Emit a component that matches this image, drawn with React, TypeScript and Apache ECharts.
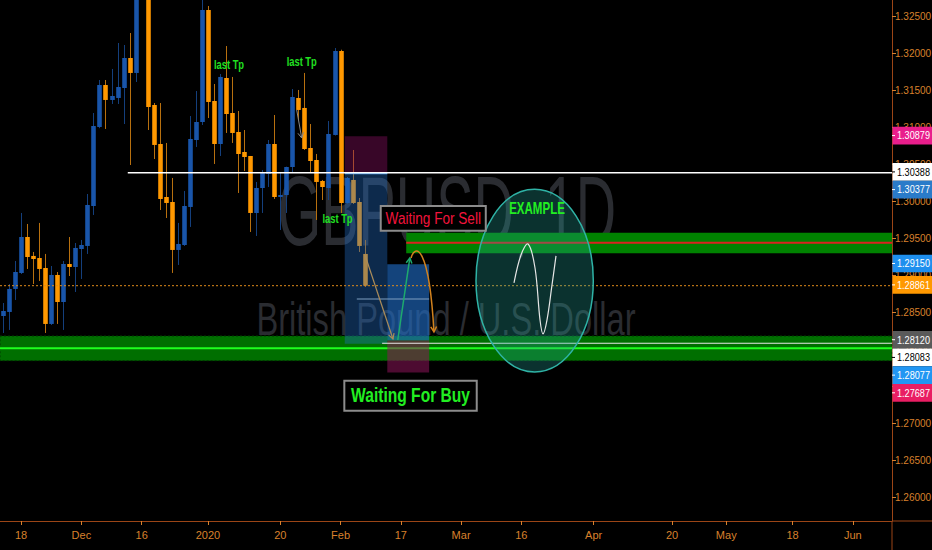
import React, { useEffect, useRef } from 'react';
import * as echarts from 'echarts';

// ---------- axis layout data ----------
const BAR_MIN = -0.5;
const BAR_MAX = 147.5;
const xTickIndex = [3, 13, 23, 34, 46, 56, 66, 76, 86, 98, 111, 120, 131, 141];
const xTickLabels = ['18', 'Dec', '16', '2020', '20', 'Feb', '17', 'Mar', '16', 'Apr', '20', 'May', '18', 'Jun'];
const yTickValues = [1.26, 1.265, 1.27, 1.275, 1.28, 1.285, 1.29, 1.295, 1.3, 1.305, 1.31, 1.315, 1.32, 1.325];
const Y_MIN = 1.25681;
const Y_MAX = 1.32722;

// ---------- GBPUSD daily candles (bar index 0 = 13 Nov 2019) ----------
const opens = [
  1.28452, 1.28506, 1.28817, 1.29033, 1.29519, 1.29263, 1.29235, 1.291, 1.28344, 1.29006,
  1.28641, 1.29154, 1.29114, 1.29357, 1.29398, 1.29938, 1.31006, 1.31573, 1.31371, 1.31398,
  1.31533, 1.31938, 1.31736, 1.333, 1.3335, 1.31303, 1.30776, 1.3006, 1.29992, 1.29344,
  1.29411, 1.29925, 1.3083, 1.31073, 1.32587, 1.31357, 1.30776, 1.31668, 1.31195, 1.30938,
  1.30668, 1.30614, 1.29844, 1.30181, 1.30371, 1.30776, 1.3006, 1.30087, 1.30465, 1.31398,
  1.31263, 1.30722, 1.3056, 1.30276, 1.30181, 1.30898, 1.32033, 1.29979, 1.3029, 1.29992,
  1.2929,
];
const highs = [
  1.28627, 1.28884, 1.29195, 1.29844, 1.29695, 1.29317, 1.29709, 1.2929, 1.29127, 1.29046,
  1.29195, 1.29519, 1.29438, 1.29479, 1.301, 1.31195, 1.31641, 1.31641, 1.3179, 1.32141,
  1.32114, 1.32276, 1.3514, 1.34, 1.341, 1.3133, 1.3133, 1.3079, 1.30317, 1.29709,
  1.30141, 1.31154, 1.31492, 1.3285, 1.32641, 1.31587, 1.31722, 1.321, 1.31682, 1.31222,
  1.30965, 1.30614, 1.30263, 1.30425, 1.3083, 1.31168, 1.30384, 1.3047, 1.31519, 1.31506,
  1.31736, 1.31046, 1.30641, 1.3029, 1.31087, 1.32073, 1.3205, 1.3033, 1.30695, 1.30046,
  1.29479,
];
const lows = [
  1.28222, 1.28263, 1.28668, 1.29019, 1.29087, 1.28884, 1.28925, 1.28222, 1.2833, 1.28344,
  1.28263, 1.28992, 1.28776, 1.28952, 1.2929, 1.29817, 1.3099, 1.30979, 1.31317, 1.31317,
  1.31046, 1.30492, 1.31614, 1.3295, 1.30965, 1.30573, 1.29884, 1.29776, 1.29033, 1.29141,
  1.29398, 1.29655, 1.30736, 1.31033, 1.31127, 1.30506, 1.30614, 1.30925, 1.3079, 1.30114,
  1.30411, 1.29587, 1.29533, 1.29844, 1.30195, 1.30033, 1.29614, 1.29844, 1.30384, 1.311,
  1.30695, 1.30384, 1.29749, 1.30019, 1.30019, 1.3089, 1.29844, 1.2997, 1.29965, 1.29317,
  1.28844,
];
const closes = [
  1.28519, 1.28817, 1.29046, 1.29519, 1.29249, 1.29222, 1.29087, 1.28344, 1.29006, 1.28641,
  1.29154, 1.29114, 1.29371, 1.29411, 1.29952, 1.31019, 1.31573, 1.31371, 1.31425, 1.31546,
  1.31938, 1.31736, 1.333, 1.3335, 1.31276, 1.30763, 1.30033, 1.29979, 1.29344, 1.29425,
  1.29938, 1.30844, 1.31073, 1.32587, 1.31344, 1.30776, 1.31682, 1.31181, 1.30925, 1.30641,
  1.306, 1.29844, 1.30181, 1.30384, 1.30776, 1.3006, 1.30087, 1.30465, 1.31411, 1.31236,
  1.30708, 1.30546, 1.30263, 1.30195, 1.30911, 1.32033, 1.29979, 1.30317, 1.29979, 1.29398,
  1.28861,
];

// ---------- price-scale badges ----------
const badgeValues = [1.30879, 1.30388, 1.30377, 1.2915, 1.28861, 1.2812, 1.28083, 1.28077, 1.27687];
const badgeBg = ['#e91e8c', '#ffffff', '#2a7bc9', '#1e8fee', '#ff9800', '#5a5a5a', '#ffffff', '#2196f3', '#e91e63'];
const badgeFg = ['#ffffff', '#000000', '#ffffff', '#ffffff', '#ffffff', '#ffffff', '#000000', '#ffffff', '#ffffff'];

// ---------- drawing anchors [bar index, price] ----------
const resistanceLine = { from: 20.7, price: 1.30388 };
const lastPrice = 1.28861;
const supportBand = { top: 1.28181, bottom: 1.27848, core: 1.28015, whiteFrom: 62.9, white: 1.28083 };
const sellBand = { from: 66.9, top: 1.29577, bottom: 1.29299, red: 1.29442 };
const shortPos = { left: 56.7, right: 63.76, stop: 1.30879, entry: 1.30377, target: 1.28077 };
const longPos = { left: 63.76, right: 70.7, target: 1.2915, entry: 1.2812, stop: 1.27687 };
const innerLine = { from: 58.7, to: 70.7, price: 1.28681 };
const exampleEllipse = { left: 78.48, right: 97.94, top: 1.30164, bottom: 1.27695 };
const exampleWave = [
  [84.78, 1.28898], [85.94, 1.29276], [87.11, 1.29425], [88.27, 1.291], [89.1, 1.28398],
  [89.6, 1.28209], [90.26, 1.28398], [91.09, 1.28871], [91.75, 1.29263],
];
const tanArrow = [[60.06, 1.29276], [64.7, 1.28141]];
const greenArrow = [[65.5, 1.28127], [67.5, 1.29236]];
const orangeArc = [[67.7, 1.29236], [68.36, 1.29425], [70.68, 1.29425], [71.5, 1.28236]];
const grayArrow = [[48.73, 1.31236], [49.56, 1.30857]];
const lastTpLabels = [[37.5, 1.31857], [49.56, 1.31898], [55.5, 1.29772]];
const exampleLabel = [88.6, 1.29911];
const sellBox = { left: 62.67, right: 80.1, top: 1.29938, bottom: 1.29604 };
const buyBox = { left: 56.63, right: 78.6, top: 1.27578, bottom: 1.27172 };

const AXIS_COLOR = '#d8802c';
const AXIS_LINE = '#9b4516';
const TXT_FONT = '"Liberation Sans", Arial, sans-serif';

function arrowHead(tip: number[], from: number[], len = 6, ang = 0.5) {
  const a = Math.atan2(tip[1] - from[1], tip[0] - from[0]);
  return [
    [tip[0] - len * Math.cos(a - ang), tip[1] - len * Math.sin(a - ang)],
    [tip[0], tip[1]],
    [tip[0] - len * Math.cos(a + ang), tip[1] - len * Math.sin(a + ang)],
  ];
}

export default function App() {
  const ref = useRef<HTMLDivElement>(null);

  useEffect(() => {
    if (!ref.current) return;
    const chart = echarts.init(ref.current, null, { renderer: 'svg' });
    const candleData = opens.map((o, k) => [k, o, closes[k], lows[k], highs[k]]);

    chart.setOption({
      animation: false,
      backgroundColor: '#000000',
      grid: { left: 0, top: 0, width: 892, height: 521, containLabel: false, outerBoundsMode: 'none' },
      xAxis: {
        type: 'value',
        min: BAR_MIN,
        max: BAR_MAX,
        axisLine: { show: true, onZero: false, lineStyle: { color: AXIS_LINE, width: 1 } },
        axisTick: { show: true, customValues: xTickIndex, length: 4, lineStyle: { color: AXIS_COLOR } },
        axisLabel: {
          customValues: xTickIndex,
          color: AXIS_COLOR,
          fontSize: 11,
          fontFamily: TXT_FONT,
          margin: 8,
          formatter: (v: number) => {
            const k = xTickIndex.indexOf(Math.round(v));
            return k >= 0 ? xTickLabels[k] : '';
          },
        },
        splitLine: { show: false },
      },
      yAxis: {
        type: 'value',
        position: 'right',
        min: Y_MIN,
        max: Y_MAX,
        axisLine: { show: true, onZero: false, lineStyle: { color: AXIS_LINE, width: 1 } },
        axisTick: { show: true, customValues: yTickValues, length: 4, lineStyle: { color: AXIS_COLOR } },
        axisLabel: {
          customValues: yTickValues,
          color: AXIS_COLOR,
          fontSize: 10,
          fontFamily: TXT_FONT,
          margin: 3,
          formatter: (v: number) => v.toFixed(5),
        },
        splitLine: { show: false },
      },
      series: [
        {
          type: 'custom',
          name: 'GBPUSD',
          clip: true,
          z: 2,
          data: candleData,
          encode: { x: 0, y: [1, 2, 3, 4] },
          renderItem: (params: any, api: any) => {
            const i = api.value(0);
            const o = api.value(1);
            const c = api.value(2);
            const l = api.value(3);
            const h = api.value(4);
            const pO = api.coord([i, o]);
            const pC = api.coord([i, c]);
            const pL = api.coord([i, l]);
            const pH = api.coord([i, h]);
            const w = api.size([1, 0])[0] * 0.76;
            const up = c >= o;
            const body = up ? '#1955aa' : '#ff9800';
            const wick = up ? '#143f7c' : '#b8700f';
            const cx = Math.round(pO[0]) + 0.5;
            const top = Math.min(pO[1], pC[1]);
            const hgt = Math.max(1, Math.abs(pO[1] - pC[1]));
            return {
              type: 'group',
              children: [
                { type: 'line', shape: { x1: cx, y1: pH[1], x2: cx, y2: pL[1] }, style: { stroke: wick, lineWidth: 1 } },
                { type: 'rect', shape: { x: cx - w / 2, y: top, width: w, height: hgt }, style: { fill: body } },
              ],
            };
          },
        },
      ],
    });

    const P = (i: number, p: number) => chart.convertToPixel({ gridIndex: 0 }, [i, p]) as number[];
    const X = (i: number) => P(i, 1.29)[0];
    const Y = (p: number) => P(0, p)[1];
    const xL = X(BAR_MIN);
    const xR = X(BAR_MAX);

    const els: any[] = [];
    // watermark
    els.push({
      type: 'text', x: 447, y: 211, scaleX: 0.57, z: 1, silent: true,
      style: { text: 'GBPUSD, 1D', fill: '#2a2c31', font: `98px ${TXT_FONT}`, align: 'center', verticalAlign: 'middle' },
    });
    els.push({
      type: 'text', x: 446, y: 319, scaleX: 0.71, z: 1, silent: true,
      style: { text: 'British Pound / U.S. Dollar', fill: '#2a2c31', font: `46px ${TXT_FONT}`, align: 'center', verticalAlign: 'middle' },
    });

    // support band (lower)
    els.push({ type: 'rect', z: 3, shape: { x: xL, y: Y(supportBand.top), width: xR - xL, height: Y(supportBand.bottom) - Y(supportBand.top) }, style: { fill: '#006f00', stroke: '#003a00', lineWidth: 1, lineDash: [2, 2] } });
    els.push({ type: 'line', z: 3, shape: { x1: xL, y1: Y(supportBand.core), x2: xR, y2: Y(supportBand.core) }, style: { stroke: '#1eff1e', lineWidth: 2 } });
    // sell band (upper)
    els.push({ type: 'rect', z: 3, shape: { x: X(sellBand.from), y: Y(sellBand.top), width: xR - X(sellBand.from), height: Y(sellBand.bottom) - Y(sellBand.top) }, style: { fill: '#008200' } });
    els.push({ type: 'line', z: 3, shape: { x1: X(sellBand.from), y1: Y(sellBand.red), x2: xR, y2: Y(sellBand.red) }, style: { stroke: '#dc2020', lineWidth: 2 } });

    // short position tool
    els.push({ type: 'rect', z: 4, shape: { x: X(shortPos.left), y: Y(shortPos.stop), width: X(shortPos.right) - X(shortPos.left), height: Y(shortPos.entry) - Y(shortPos.stop) }, style: { fill: 'rgba(140,15,100,0.4)' } });
    els.push({ type: 'rect', z: 4, shape: { x: X(shortPos.left), y: Y(shortPos.entry), width: X(shortPos.right) - X(shortPos.left), height: Y(shortPos.target) - Y(shortPos.entry) }, style: { fill: 'rgba(33,110,200,0.38)' } });
    els.push({ type: 'line', z: 4, shape: { x1: X(shortPos.left), y1: Y(shortPos.entry), x2: X(shortPos.right), y2: Y(shortPos.entry) }, style: { stroke: '#4a9ae8', lineWidth: 1.5 } });
    // long position tool
    els.push({ type: 'rect', z: 4, shape: { x: X(longPos.left), y: Y(longPos.target), width: X(longPos.right) - X(longPos.left), height: Y(longPos.entry) - Y(longPos.target) }, style: { fill: 'rgba(33,110,200,0.62)' } });
    els.push({ type: 'rect', z: 4, shape: { x: X(longPos.left), y: Y(longPos.entry), width: X(longPos.right) - X(longPos.left), height: Y(longPos.stop) - Y(longPos.entry) }, style: { fill: 'rgba(140,20,90,0.55)' } });
    els.push({ type: 'line', z: 5, shape: { x1: X(innerLine.from), y1: Y(innerLine.price), x2: X(innerLine.to), y2: Y(innerLine.price) }, style: { stroke: '#7f9ec0', lineWidth: 1 } });

    // horizontal lines
    els.push({ type: 'line', z: 5, shape: { x1: X(resistanceLine.from), y1: Y(resistanceLine.price), x2: xR, y2: Y(resistanceLine.price) }, style: { stroke: '#ffffff', lineWidth: 1.5 } });
    els.push({ type: 'line', z: 5, shape: { x1: xL, y1: Y(lastPrice), x2: xR, y2: Y(lastPrice) }, style: { stroke: '#e08a1a', lineWidth: 1, lineDash: [2, 2] } });
    els.push({ type: 'line', z: 5, shape: { x1: X(supportBand.whiteFrom), y1: Y(supportBand.white), x2: xR, y2: Y(supportBand.white) }, style: { stroke: '#e8e8e8', lineWidth: 1 } });

    // arrows
    const ta0 = P(tanArrow[0][0], tanArrow[0][1]);
    const ta1 = P(tanArrow[1][0], tanArrow[1][1]);
    els.push({ type: 'line', z: 6, shape: { x1: ta0[0], y1: ta0[1], x2: ta1[0], y2: ta1[1] }, style: { stroke: '#aa8c5a', lineWidth: 1.2 } });
    els.push({ type: 'polyline', z: 6, shape: { points: arrowHead(ta1, ta0, 6) }, style: { stroke: '#aa8c5a', lineWidth: 1.2, fill: 'none' } });
    const ga0 = P(greenArrow[0][0], greenArrow[0][1]);
    const ga1 = P(greenArrow[1][0], greenArrow[1][1]);
    els.push({ type: 'line', z: 6, shape: { x1: ga0[0], y1: ga0[1], x2: ga1[0], y2: ga1[1] }, style: { stroke: '#1eaa6e', lineWidth: 1.5 } });
    els.push({ type: 'polyline', z: 6, shape: { points: arrowHead(ga1, ga0, 6) }, style: { stroke: '#1eaa6e', lineWidth: 1.5, fill: 'none' } });
    const oa = orangeArc.map((q) => P(q[0], q[1]));
    els.push({ type: 'bezierCurve', z: 6, shape: { x1: oa[0][0], y1: oa[0][1], cpx1: oa[1][0], cpy1: oa[1][1], cpx2: oa[2][0], cpy2: oa[2][1], x2: oa[3][0], y2: oa[3][1] }, style: { stroke: '#d2821e', lineWidth: 1.5, fill: 'none' } });
    els.push({ type: 'polyline', z: 6, shape: { points: arrowHead(oa[3], [oa[3][0] - 0.5, oa[3][1] - 10], 6) }, style: { stroke: '#d2821e', lineWidth: 1.5, fill: 'none' } });
    const gr0 = P(grayArrow[0][0], grayArrow[0][1]);
    const gr1 = P(grayArrow[1][0], grayArrow[1][1]);
    els.push({ type: 'line', z: 6, shape: { x1: gr0[0], y1: gr0[1], x2: gr1[0], y2: gr1[1] }, style: { stroke: '#8a8a8a', lineWidth: 1 } });
    els.push({ type: 'polyline', z: 6, shape: { points: arrowHead(gr1, gr0, 6) }, style: { stroke: '#8a8a8a', lineWidth: 1, fill: 'none' } });

    // example ellipse
    const eL = X(exampleEllipse.left);
    const eR = X(exampleEllipse.right);
    const eT = Y(exampleEllipse.top);
    const eB = Y(exampleEllipse.bottom);
    els.push({ type: 'ellipse', z: 7, shape: { cx: (eL + eR) / 2, cy: (eT + eB) / 2, rx: (eR - eL) / 2, ry: (eB - eT) / 2 }, style: { fill: 'rgba(38,166,154,0.3)', stroke: '#2fb3a6', lineWidth: 1.5 } });
    els.push({ type: 'polyline', z: 8, shape: { points: exampleWave.map((q) => P(q[0], q[1])), smooth: 0.35 }, style: { stroke: '#e6e6e6', lineWidth: 1.2, fill: 'none' } });

    // texts
    lastTpLabels.forEach((q) => {
      const p = P(q[0], q[1]);
      els.push({ type: 'text', x: p[0], y: p[1], scaleX: 0.72, z: 9, style: { text: 'last Tp', fill: '#21e021', font: `bold 13px ${TXT_FONT}`, align: 'center', verticalAlign: 'middle' } });
    });
    const ex = P(exampleLabel[0], exampleLabel[1]);
    els.push({ type: 'text', x: ex[0], y: ex[1], scaleX: 0.72, z: 9, style: { text: 'EXAMPLE', fill: '#22ee22', font: `bold 16px ${TXT_FONT}`, align: 'center', verticalAlign: 'middle' } });

    const sbL = X(sellBox.left), sbR = X(sellBox.right), sbT = Y(sellBox.top), sbB = Y(sellBox.bottom);
    els.push({ type: 'rect', z: 9, shape: { x: sbL, y: sbT, width: sbR - sbL, height: sbB - sbT }, style: { fill: '#000000', stroke: '#8c8c8c', lineWidth: 2 } });
    els.push({ type: 'text', x: (sbL + sbR) / 2, y: (sbT + sbB) / 2, scaleX: 0.8, z: 10, style: { text: 'Waiting For Sell', fill: '#f2143c', font: `17px ${TXT_FONT}`, align: 'center', verticalAlign: 'middle' } });
    const bbL = X(buyBox.left), bbR = X(buyBox.right), bbT = Y(buyBox.top), bbB = Y(buyBox.bottom);
    els.push({ type: 'rect', z: 9, shape: { x: bbL, y: bbT, width: bbR - bbL, height: bbB - bbT }, style: { fill: '#000000', stroke: '#8c8c8c', lineWidth: 2 } });
    els.push({ type: 'text', x: (bbL + bbR) / 2, y: (bbT + bbB) / 2, scaleX: 0.78, z: 10, style: { text: 'Waiting For Buy', fill: '#22ee22', font: `bold 20px ${TXT_FONT}`, align: 'center', verticalAlign: 'middle' } });

    // pane separators beyond the grid
    els.push({ type: 'line', z: 10, shape: { x1: xR, y1: 521, x2: 932, y2: 521 }, style: { stroke: AXIS_LINE, lineWidth: 1 } });
    els.push({ type: 'line', z: 10, shape: { x1: xR, y1: 521, x2: xR, y2: 550 }, style: { stroke: AXIS_LINE, lineWidth: 1 } });

    // price badges, stacked so they do not overlap
    const BH = 17.7;
    let prevBottom = -1e9;
    badgeValues
      .map((v, k) => ({ v, k }))
      .sort((a, b) => b.v - a.v)
      .forEach(({ v, k }) => {
        const yc = Y(v) - 0.8;
        const top = Math.max(yc - BH / 2, prevBottom);
        prevBottom = top + BH;
        els.push({ type: 'rect', z: 20, shape: { x: xR + 0.5, y: top, width: 932 - xR, height: BH }, style: { fill: badgeBg[k] } });
        els.push({ type: 'line', z: 21, shape: { x1: xR, y1: top + BH / 2, x2: xR + 3, y2: top + BH / 2 }, style: { stroke: badgeFg[k], lineWidth: 1 } });
        els.push({ type: 'text', z: 21, x: xR + 5, y: top + BH / 2, scaleX: 0.83, style: { text: v.toFixed(5), fill: badgeFg[k], font: `11px ${TXT_FONT}`, align: 'left', verticalAlign: 'middle' } });
      });

    chart.setOption({ graphic: { elements: els } });

    return () => chart.dispose();
  }, []);

  return <div ref={ref} style={{ position: 'fixed', left: 0, top: 0, width: 932, height: 550, background: '#000' }} />;
}
